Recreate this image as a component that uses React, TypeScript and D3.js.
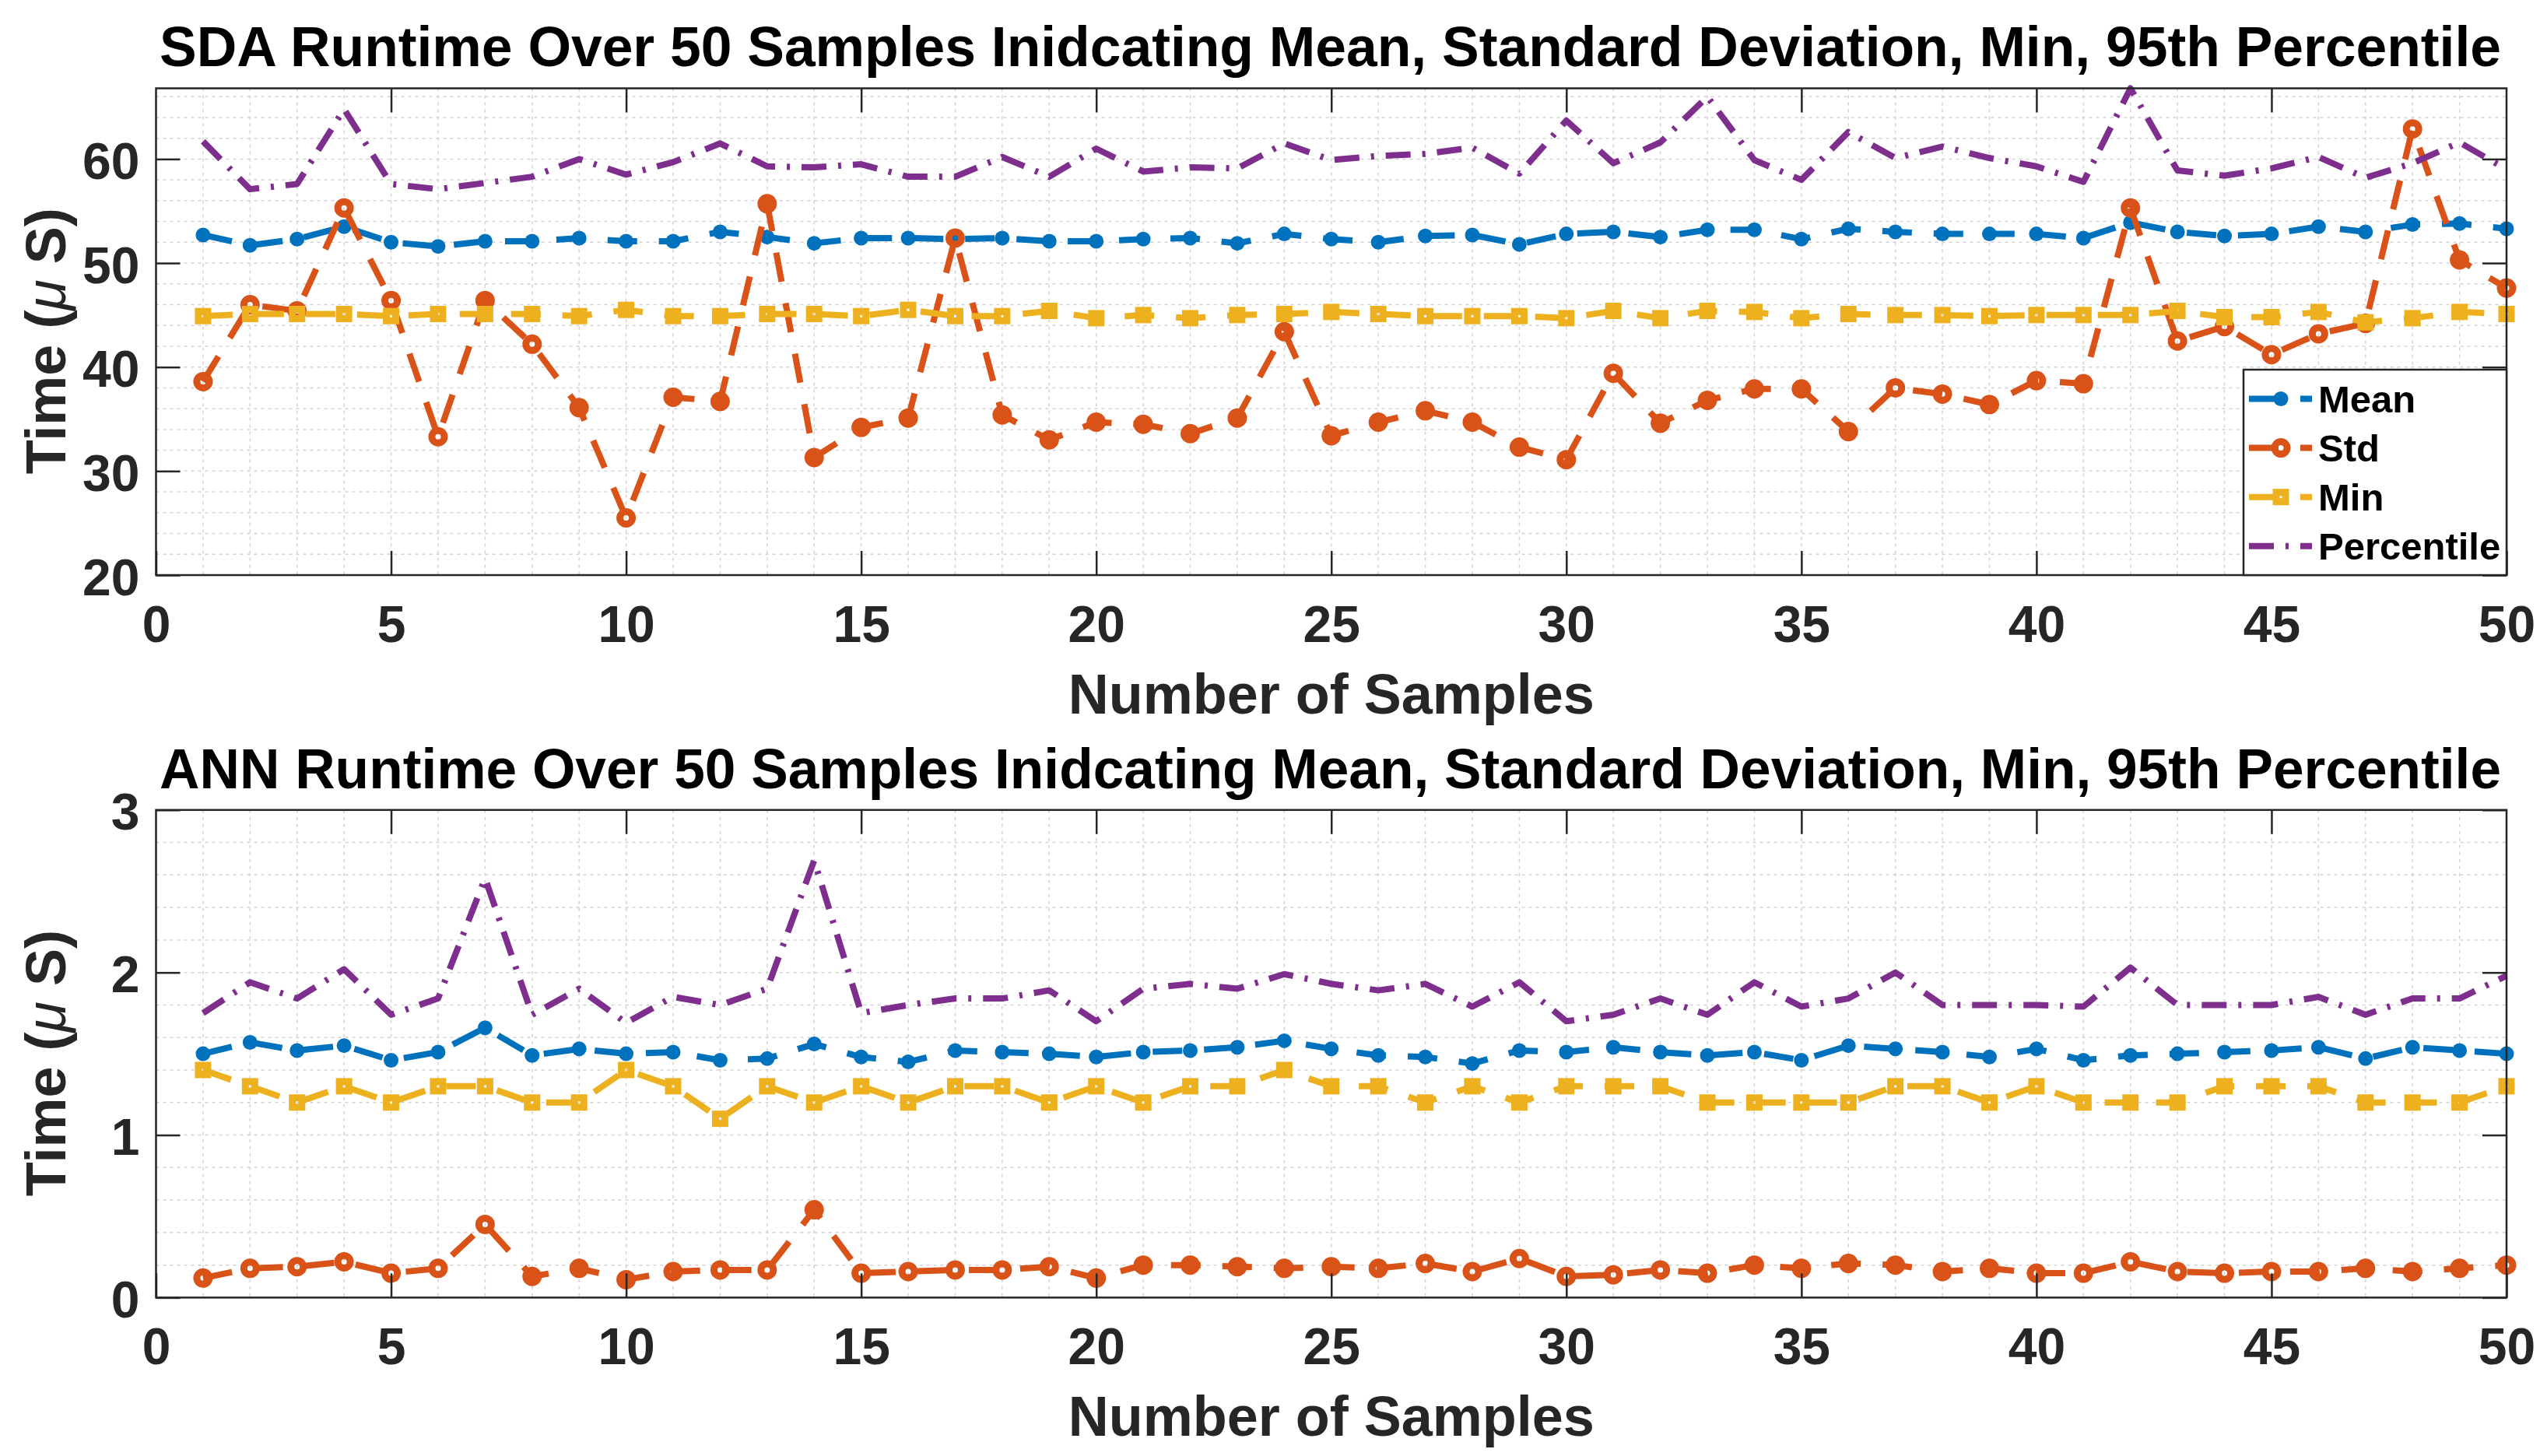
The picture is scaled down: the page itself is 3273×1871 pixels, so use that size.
import { useEffect, useRef } from "react";
import * as d3 from "d3";

const W = 3273;
const H = 1871;

const samples = d3.range(1, 51);

const sdaMean = [
  52.7, 51.7, 52.3, 53.5, 52.0, 51.6, 52.1, 52.1, 52.4, 52.1, 52.1, 53.0, 52.5, 51.9, 52.4, 52.4, 52.3,
  52.4, 52.1, 52.1, 52.3, 52.4, 51.9, 52.8, 52.3, 52.0, 52.6, 52.7, 51.8, 52.8, 53.0, 52.5, 53.2, 53.2,
  52.3, 53.3, 53.0, 52.8, 52.8, 52.8, 52.4, 53.9, 53.0, 52.6, 52.8, 53.5, 53.0, 53.7, 53.8, 53.3,
];
const sdaStd = [
  38.6, 46.0, 45.4, 55.3, 46.4, 33.3, 46.4, 42.2, 36.1, 25.5, 37.1, 36.7, 55.7, 31.3, 34.2, 35.1, 52.4,
  35.4, 33.0, 34.7, 34.5, 33.6, 35.1, 43.4, 33.4, 34.7, 35.8, 34.7, 32.3, 31.1, 39.4, 34.6, 36.8, 37.9,
  37.9, 33.8, 38.0, 37.4, 36.4, 38.7, 38.4, 55.3, 42.5, 43.9, 41.2, 43.2, 44.2, 62.9, 50.3, 47.6,
];
const sdaMin = [
  44.9, 45.1, 45.1, 45.1, 44.9, 45.1, 45.1, 45.1, 44.9, 45.5, 44.9, 44.9, 45.1, 45.1, 44.9, 45.5, 44.9,
  44.9, 45.4, 44.7, 45.0, 44.7, 45.0, 45.1, 45.3, 45.1, 44.9, 44.9, 44.9, 44.7, 45.4, 44.7, 45.4, 45.3,
  44.7, 45.1, 45.0, 45.0, 44.9, 45.0, 45.0, 45.0, 45.4, 44.8, 44.8, 45.3, 44.3, 44.7, 45.3, 45.1,
];
const sdaPct = [
  61.7, 57.1, 57.6, 64.8, 57.6, 57.1, 57.7, 58.3, 60.0, 58.5, 59.7, 61.5, 59.3, 59.2, 59.5, 58.3, 58.3,
  60.2, 58.3, 61.0, 58.8, 59.2, 59.1, 61.5, 59.9, 60.3, 60.5, 61.1, 58.6, 63.7, 59.6, 61.6, 66.0, 59.9,
  58.0, 62.6, 60.1, 61.2, 60.1, 59.3, 57.8, 66.8, 58.9, 58.4, 59.1, 60.2, 58.2, 59.6, 61.6, 59.0,
];

const annMean = [
  1.5, 1.57, 1.52, 1.55, 1.46, 1.51, 1.66, 1.49, 1.53, 1.5, 1.51, 1.46, 1.47, 1.56, 1.48, 1.45, 1.52,
  1.51, 1.5, 1.48, 1.51, 1.52, 1.54, 1.58, 1.53, 1.49, 1.48, 1.44, 1.52, 1.51, 1.54, 1.51, 1.49, 1.51,
  1.46, 1.55, 1.53, 1.51, 1.48, 1.53, 1.46, 1.49, 1.5, 1.51, 1.52, 1.54, 1.47, 1.54, 1.52, 1.5,
];
const annStd = [
  0.12, 0.18, 0.19, 0.22, 0.15, 0.18, 0.45, 0.13, 0.18, 0.11, 0.16, 0.17, 0.17, 0.54, 0.15, 0.16, 0.17,
  0.17, 0.19, 0.12, 0.2, 0.2, 0.19, 0.18, 0.19, 0.18, 0.21, 0.16, 0.24, 0.13, 0.14, 0.17, 0.15, 0.2,
  0.18, 0.21, 0.2, 0.16, 0.18, 0.15, 0.15, 0.22, 0.16, 0.15, 0.16, 0.16, 0.18, 0.16, 0.18, 0.2,
];
const annMin = [
  1.4, 1.3, 1.2, 1.3, 1.2, 1.3, 1.3, 1.2, 1.2, 1.4, 1.3, 1.1, 1.3, 1.2, 1.3, 1.2, 1.3, 1.3, 1.2, 1.3,
  1.2, 1.3, 1.3, 1.4, 1.3, 1.3, 1.2, 1.3, 1.2, 1.3, 1.3, 1.3, 1.2, 1.2, 1.2, 1.2, 1.3, 1.3, 1.2, 1.3,
  1.2, 1.2, 1.2, 1.3, 1.3, 1.3, 1.2, 1.2, 1.2, 1.3,
];
const annPct = [
  1.75, 1.94, 1.84, 2.02, 1.74, 1.84, 2.58, 1.74, 1.9, 1.69, 1.85, 1.8, 1.9, 2.69, 1.75, 1.8, 1.84,
  1.84, 1.89, 1.7, 1.9, 1.93, 1.9, 1.99, 1.93, 1.89, 1.93, 1.79, 1.94, 1.7, 1.74, 1.84, 1.74, 1.94,
  1.79, 1.84, 2.0, 1.8, 1.8, 1.8, 1.79, 2.03, 1.8, 1.8, 1.8, 1.85, 1.74, 1.84, 1.84, 1.98,
];

const seriesNames = ["Mean", "Std", "Min", "Percentile"];
const seriesColors = ["#0072BD", "#D95319", "#EDB120", "#7E2F8E"];
const seriesMarkers = ["dot", "circle", "square", "none"];
const seriesDash = ["38,28", "38,28", "38,28", "32,15,4,15"];

const xTicks = [0, 5, 10, 15, 20, 25, 30, 35, 40, 45, 50];
const sdaYTicks = [20, 30, 40, 50, 60];
const annYTicks = [0, 1, 2, 3];

const sdaTitle = "SDA Runtime Over 50 Samples Inidcating Mean, Standard Deviation, Min, 95th Percentile";
const annTitle = "ANN Runtime Over 50 Samples Inidcating Mean, Standard Deviation, Min, 95th Percentile";
const xLabel = "Number of Samples";

const FONT = "'Liberation Sans', Arial, Helvetica, sans-serif";
const INK = "#262626";

type Panel = {
  top: number;
  bottom: number;
  domain: [number, number];
  yTicks: number[];
  yGrid: number[];
  title: string;
  titleY: number;
  xLabelY: number;
  data: number[][];
  legend: boolean;
};

function drawMarker(g: any, kind: string, cx: number, cy: number, color: string) {
  if (kind === "dot") {
    g.append("circle").attr("cx", cx).attr("cy", cy).attr("r", 9.5).attr("fill", color);
  } else if (kind === "circle") {
    g.append("circle")
      .attr("cx", cx)
      .attr("cy", cy)
      .attr("r", 8)
      .attr("fill", "none")
      .attr("stroke", color)
      .attr("stroke-width", 9);
  } else if (kind === "square") {
    g.append("rect")
      .attr("x", cx - 6)
      .attr("y", cy - 6)
      .attr("width", 12)
      .attr("height", 12)
      .attr("fill", "none")
      .attr("stroke", color)
      .attr("stroke-width", 9);
  }
}

function drawPanel(svg: any, p: Panel) {
  const x = d3.scaleLinear().domain([0, 50]).range([200.5, 3221]);
  const y = d3.scaleLinear().domain(p.domain).range([p.bottom, p.top]);
  const left = x(0);
  const right = x(50);

  // Grid (minor, dotted)
  const grid = svg.append("g").attr("stroke", "#d2d2d2").attr("stroke-width", 1.5).attr("stroke-dasharray", "4,5");
  d3.range(1, 50).forEach((v) => {
    grid.append("line").attr("x1", x(v)).attr("x2", x(v)).attr("y1", p.top).attr("y2", p.bottom);
  });
  p.yGrid.forEach((v) => {
    grid.append("line").attr("x1", left).attr("x2", right).attr("y1", y(v)).attr("y2", y(v));
  });

  // Series
  const line = d3
    .line<number>()
    .x((_, i) => x(samples[i]))
    .y((d) => y(d));

  p.data.forEach((vals, k) => {
    const g = svg.append("g");
    g.append("path")
      .attr("d", line(vals))
      .attr("fill", "none")
      .attr("stroke", seriesColors[k])
      .attr("stroke-width", 8)
      .attr("stroke-dasharray", seriesDash[k])
      .attr("stroke-linejoin", "round");
    vals.forEach((v, i) => drawMarker(g, seriesMarkers[k], x(samples[i]), y(v), seriesColors[k]));
  });

  // Axes with inward ticks
  const styleAxis = (g: any) => {
    g.select(".domain").remove();
    g.selectAll(".tick line").attr("stroke", INK).attr("stroke-width", 2.5);
    g.selectAll(".tick text")
      .attr("fill", INK)
      .attr("font-size", 66)
      .attr("font-weight", "bold")
      .attr("font-family", FONT);
  };

  svg
    .append("g")
    .attr("transform", `translate(0,${p.bottom})`)
    .call(d3.axisBottom(x).tickValues(xTicks).tickSize(-31).tickPadding(39).tickFormat(d3.format("d")))
    .call(styleAxis);
  svg
    .append("g")
    .attr("transform", `translate(0,${p.top})`)
    .call(d3.axisTop(x).tickValues(xTicks.slice(1, -1)).tickSize(-31).tickFormat(() => ""))
    .call(styleAxis);
  svg
    .append("g")
    .attr("transform", `translate(${left},0)`)
    .call(d3.axisLeft(y).tickValues(p.yTicks).tickSize(-31).tickPadding(21).tickFormat(d3.format("d")))
    .call(styleAxis)
    .call((g: any) => g.selectAll(".tick text").attr("dy", "0.38em"));
  svg
    .append("g")
    .attr("transform", `translate(${right},0)`)
    .call(d3.axisRight(y).tickValues(p.yTicks).tickSize(-31).tickFormat(() => ""))
    .call(styleAxis);

  // Box
  svg
    .append("rect")
    .attr("x", left)
    .attr("y", p.top)
    .attr("width", right - left)
    .attr("height", p.bottom - p.top)
    .attr("fill", "none")
    .attr("stroke", INK)
    .attr("stroke-width", 2.5);

  // Title
  svg
    .append("text")
    .attr("x", 1709.5)
    .attr("y", p.titleY)
    .attr("text-anchor", "middle")
    .attr("font-family", FONT)
    .attr("font-weight", "bold")
    .attr("font-size", 72)
    .attr("textLength", 3009)
    .attr("lengthAdjust", "spacingAndGlyphs")
    .attr("fill", "#000")
    .text(p.title);

  // X label
  svg
    .append("text")
    .attr("x", (left + right) / 2)
    .attr("y", p.xLabelY)
    .attr("text-anchor", "middle")
    .attr("font-family", FONT)
    .attr("font-weight", "bold")
    .attr("font-size", 72)
    .attr("fill", INK)
    .text(xLabel);

  // Y label
  const yl = svg
    .append("text")
    .attr("transform", `translate(84,${(p.top + p.bottom) / 2 + 12}) rotate(-90)`)
    .attr("text-anchor", "middle")
    .attr("font-family", FONT)
    .attr("font-weight", "bold")
    .attr("font-size", 72)
    .attr("fill", INK);
  yl.append("tspan").text("Time (");
  yl.append("tspan").attr("font-style", "italic").attr("font-weight", "normal").text("\u03bc");
  yl.append("tspan").text(" S)");

  // Legend
  if (p.legend) {
    const lg = svg.append("g");
    const lx0 = 2883;
    const ly0 = 475;
    lg.append("rect")
      .attr("x", lx0)
      .attr("y", ly0)
      .attr("width", right - lx0)
      .attr("height", p.bottom - ly0)
      .attr("fill", "#fff")
      .attr("stroke", INK)
      .attr("stroke-width", 2.5);
    seriesNames.forEach((name, k) => {
      const cy = ly0 + 37.5 + k * 63.1;
      lg.append("line")
        .attr("x1", 2890)
        .attr("x2", 2971)
        .attr("y1", cy)
        .attr("y2", cy)
        .attr("stroke", seriesColors[k])
        .attr("stroke-width", 8)
        .attr("stroke-dasharray", seriesDash[k]);
      drawMarker(lg, seriesMarkers[k], 2931, cy, seriesColors[k]);
      lg.append("text")
        .attr("x", 2979)
        .attr("y", cy)
        .attr("dy", "0.36em")
        .attr("font-family", FONT)
        .attr("font-weight", "bold")
        .attr("font-size", 49)
        .attr("fill", "#000")
        .text(name);
    });
  }
}

export default function App() {
  const ref = useRef<SVGSVGElement>(null);

  useEffect(() => {
    if (!ref.current) return;
    const svg = d3.select(ref.current);
    svg.selectAll("*").remove();
    svg.append("rect").attr("width", W).attr("height", H).attr("fill", "#fff");

    drawPanel(svg, {
      top: 113.5,
      bottom: 739,
      domain: [20, 66.8],
      yTicks: sdaYTicks,
      yGrid: d3.range(22, 67, 2),
      title: sdaTitle,
      titleY: 85,
      xLabelY: 917,
      data: [sdaMean, sdaStd, sdaMin, sdaPct],
      legend: true,
    });

    drawPanel(svg, {
      top: 1040.8,
      bottom: 1667.4,
      domain: [0, 3],
      yTicks: annYTicks,
      yGrid: d3.range(0.2, 2.9, 0.2),
      title: annTitle,
      titleY: 1012.5,
      xLabelY: 1845,
      data: [annMean, annStd, annMin, annPct],
      legend: false,
    });
  }, []);

  return (
    <svg
      ref={ref}
      width={W}
      height={H}
      style={{ position: "absolute", left: 0, top: 0, display: "block" }}
    />
  );
}
